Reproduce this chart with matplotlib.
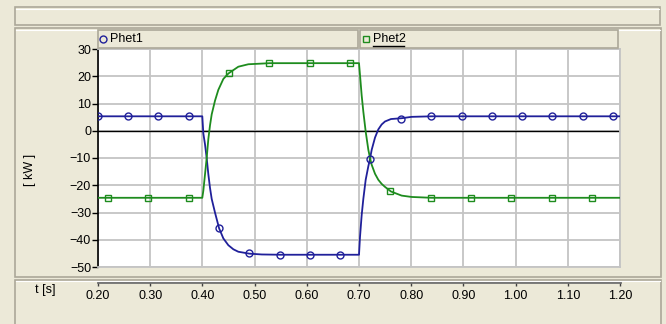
import matplotlib.pyplot as plt
from matplotlib.patches import Rectangle
from matplotlib.lines import Line2D

# Werte
t1 = [0.20, 0.3998, 0.4018, 0.4050, 0.4082, 0.4114, 0.4146, 0.4178, 0.4241, 0.4320,
      0.4401, 0.4497, 0.4593, 0.4688, 0.4900, 0.5137, 0.5490, 0.7000, 0.7019, 0.7051,
      0.7083, 0.7128, 0.7179, 0.7211, 0.7243, 0.7307, 0.7370, 0.7434, 0.7498, 0.7613,
      0.7817, 0.8009, 0.8392, 1.20]
phet1 = [5.3, 5.3, -1.0, -5.0, -10.0, -16.0, -21.0, -25.0, -30.0, -35.8,
         -39.5, -42.0, -43.5, -44.4, -45.1, -45.4, -45.5, -45.5, -39.0, -31.0,
         -25.0, -18.0, -13.0, -10.3, -7.0, -2.5, 0.5, 2.3, 3.4, 4.3,
         4.6, 5.1, 5.3, 5.3]

t2 = [0.20, 0.3998, 0.4018, 0.4050, 0.4082, 0.4114, 0.4146, 0.4178, 0.4241, 0.4305,
      0.4401, 0.4497, 0.4688, 0.4880, 0.5295, 0.7000, 0.7019, 0.7051, 0.7083, 0.7128,
      0.7179, 0.7211, 0.7243, 0.7307, 0.7370, 0.7434, 0.7498, 0.7613, 0.7817, 0.8009,
      0.8392, 1.20]
phet2 = [-24.6, -24.6, -22.0, -16.0, -10.0, -3.0, 2.0, 6.0, 11.0, 15.0,
         19.0, 21.0, 23.5, 24.4, 24.8, 24.8, 20.5, 13.0, 7.0, -0.3,
         -7.0, -10.0, -12.5, -15.8, -18.0, -19.5, -20.6, -22.3, -23.8, -24.3,
         -24.6, -24.6]

# Markerpositionen
m1_t = [0.200, 0.2575, 0.315, 0.3743, 0.4324, 0.4898, 0.548, 0.6067, 0.6642,
        0.7211, 0.7799, 0.8374, 0.8967, 0.9542, 1.0117, 1.0703, 1.1285, 1.186]
m1_v = [5.3, 5.3, 5.3, 5.3, -35.8, -45.0, -45.5, -45.5, -45.5,
        -10.3, 4.4, 5.3, 5.3, 5.3, 5.3, 5.3, 5.3, 5.3]
m2_t = [0.2186, 0.2958, 0.3738, 0.4510, 0.5282, 0.6055, 0.6828, 0.7603,
        0.8375, 0.9149, 0.9921, 1.0693, 1.1467]
m2_v = [-24.6, -24.6, -24.6, 21.1, 24.8, 24.8, 24.8, -22.2,
        -24.6, -24.6, -24.6, -24.6, -24.6]

xticks = [0.2, 0.3, 0.4, 0.5, 0.6, 0.7, 0.8, 0.9, 1.0, 1.1, 1.2]
yticks = [30, 20, 10, 0, -10, -20, -30, -40, -50]

W, H = 666, 324
BG = '#ece9d8'
EDGE = '#aca899'
BLUE = '#20209a'
GREEN = '#1e8c1e'

plt.rcParams['font.family'] = ['Liberation Sans', 'DejaVu Sans']

fig = plt.figure(figsize=(W / 100, H / 100), dpi=100, facecolor=BG)


def px_rect(x0, y0, x1, y1, fc=BG, ec=EDGE, lw=1.2, z=0):
    r = Rectangle((x0 / W, 1 - y1 / H), (x1 - x0) / W, (y1 - y0) / H,
                  transform=fig.transFigure, fc=fc, ec=ec, lw=lw, zorder=z)
    fig.add_artist(r)


def px_line(xs, ys, **kw):
    fig.add_artist(Line2D([x / W for x in xs], [1 - y / H for y in ys],
                          transform=fig.transFigure, **kw))


# Rahmen
px_rect(15, 7, 660, 25)
px_line([16, 659], [8.5, 8.5], color='white', lw=0.8)
px_rect(15, 28, 661, 277)
px_line([16, 660], [29.5, 29.5], color='white', lw=0.8)
px_rect(15, 280, 661, 340)
px_line([16, 660], [281, 281], color='white', lw=0.8)

# Hauptdiagramm
ax = fig.add_axes([98 / W, 1 - 267 / H, 522 / W, 218 / H])
ax.set_facecolor('white')
ax.plot(t1, phet1, color=BLUE, lw=1.3, zorder=3)
ax.plot(t2, phet2, color=GREEN, lw=1.3, zorder=3)
ax.plot(m1_t, m1_v, ls='none', marker='o', ms=5, mfc='none', mec=BLUE, mew=1, zorder=4)
ax.plot(m2_t, m2_v, ls='none', marker='s', ms=5, mfc='none', mec=GREEN, mew=1, zorder=4)
ax.axhline(0, color='black', lw=1, zorder=2)
ax.set_xlim(0.2, 1.2)
ax.set_ylim(-50, 30)
ax.set_xticks(xticks)
ax.set_yticks(yticks)
ax.grid(color='#c4c4c4', lw=1.3, zorder=1)
ax.set_axisbelow(True)
ax.tick_params(axis='x', bottom=False, labelbottom=False)
ax.tick_params(axis='y', direction='out', length=4, width=1, labelsize=9, pad=1)
for s in ['top', 'right', 'bottom']:
    ax.spines[s].set_color('#c4c4c4')
    ax.spines[s].set_linewidth(1.3)
ax.spines['left'].set_color('black')
ax.spines['left'].set_linewidth(1.2)

# x-Achse im unteren Feld
ax2 = fig.add_axes([98 / W, 1 - 282 / H, 522 / W, 0.0001])
ax2.set_facecolor('none')
ax2.set_xlim(0.2, 1.2)
ax2.set_xticks(xticks)
ax2.set_xticklabels([f'{v:.2f}' for v in xticks])
ax2.set_yticks([])
for s in ['top', 'left', 'right']:
    ax2.spines[s].set_visible(False)
ax2.spines['bottom'].set_color('#707070')
ax2.spines['bottom'].set_linewidth(2)
ax2.tick_params(axis='x', direction='out', length=3, width=1, color='#404040',
                labelsize=9, pad=3)

# Legendenfelder
px_rect(98, 30, 358, 48, z=5)
px_rect(360, 30, 618, 48, z=5)
fig.add_artist(Line2D([103 / W], [1 - 39 / H], transform=fig.transFigure, marker='o',
                      ms=5, mfc='none', mec=BLUE, mew=1, ls='none', zorder=6))
fig.text(110 / W, 1 - 39 / H, 'Phet1', fontsize=9, va='center', ha='left', zorder=6)
fig.add_artist(Line2D([366 / W], [1 - 39 / H], transform=fig.transFigure, marker='s',
                      ms=5, mfc='none', mec=GREEN, mew=1, ls='none', zorder=6))
fig.text(373 / W, 1 - 39 / H, 'Phet2', fontsize=9, va='center', ha='left', zorder=6)
px_line([373, 404], [46, 46], color='black', lw=1, zorder=6)

fig.text(30 / W, 1 - 170 / H, '[ kW ]', fontsize=9, rotation=90, ha='center', va='center')
fig.text(45 / W, 1 - 290 / H, 't [s]', fontsize=9, ha='center', va='center')

plt.savefig('out.png', dpi=100, facecolor=BG)
plt.close()
